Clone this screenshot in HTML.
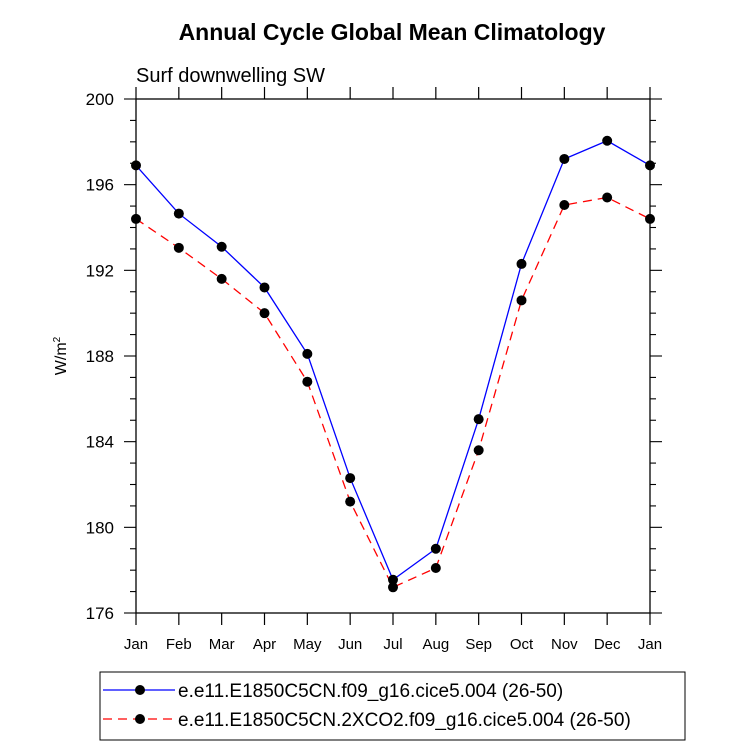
<!DOCTYPE html>
<html><head><meta charset="utf-8"><style>
body{margin:0;background:#fff;font-family:"Liberation Sans",sans-serif}
</style></head><body>
<svg width="733" height="746" xmlns="http://www.w3.org/2000/svg" font-family="Liberation Sans, sans-serif">
<text x="392" y="40" text-anchor="middle" font-size="23" font-weight="bold">Annual Cycle Global Mean Climatology</text>
<text x="136" y="82" font-size="20">Surf downwelling SW</text>
<g id="axes"></g>
<g id="series"></g>
<text transform="translate(66,356) rotate(-90)" text-anchor="middle" font-size="16">W/m<tspan font-size="10" dy="-6">2</tspan></text>
<g>
<rect x="100" y="672" width="585" height="68" fill="none" stroke="#000" stroke-width="1"/>
<line x1="103" y1="690" x2="175" y2="690" stroke="#00f" stroke-width="1.3"/>
<circle cx="140" cy="690" r="5" fill="#000"/>
<text x="178" y="697" font-size="19">e.e11.E1850C5CN.f09_g16.cice5.004 (26-50)</text>
<line x1="103" y1="719" x2="175" y2="719" stroke="#f00" stroke-width="1.3" stroke-dasharray="9,6"/>
<circle cx="140" cy="719" r="5" fill="#000"/>
<text x="178" y="726" font-size="19">e.e11.E1850C5CN.2XCO2.f09_g16.cice5.004 (26-50)</text>
</g>
</svg>
<script>
const months=["Jan","Feb","Mar","Apr","May","Jun","Jul","Aug","Sep","Oct","Nov","Dec","Jan"];
const control=[196.9,194.65,193.1,191.2,188.1,182.3,177.55,179.0,185.05,192.3,197.2,198.05,196.9];
const co2x2=[194.4,193.05,191.6,190.0,186.8,181.2,177.2,178.1,183.6,190.6,195.05,195.4,194.4];
const yTicks=[176,180,184,188,192,196,200];
const NS="http://www.w3.org/2000/svg";
const L=136,R=650,T=99,B=613,yMin=176,yMax=200;
const xs=i=>L+(R-L)*i/(months.length-1);
const ys=v=>B-(B-T)*(v-yMin)/(yMax-yMin);
function mk(tag,a,parent){const e=document.createElementNS(NS,tag);for(const k in a)e.setAttribute(k,a[k]);parent.appendChild(e);return e;}
const ax=document.getElementById('axes');
const frame=mk('rect',{x:L,y:T,width:R-L,height:B-T,fill:'none',stroke:'#000','stroke-width':1.3},ax);


months.forEach((m,i)=>{const x=xs(i);
mk('line',{x1:x,y1:B,x2:x,y2:B+12,stroke:'#000','stroke-width':1.2},ax);
mk('line',{x1:x,y1:T,x2:x,y2:T-12,stroke:'#000','stroke-width':1.2},ax);
const t=mk('text',{x:x,y:B+36,'text-anchor':'middle','font-size':15},ax);t.textContent=m;

});
for(let v=yMin;v<=yMax;v+=1){const y=ys(v);const major=(v-yMin)%4===0;const len=major?12:6;
mk('line',{x1:L,y1:y,x2:L-len,y2:y,stroke:'#000','stroke-width':1.1},ax);
mk('line',{x1:R,y1:y,x2:R+len,y2:y,stroke:'#000','stroke-width':1.1},ax);}
yTicks.forEach(v=>{const t=mk('text',{x:L-22,y:ys(v)+6,'text-anchor':'end','font-size':17},ax);t.textContent=v;

});
const sg=document.getElementById('series');
function draw(data,color,dash,name){
const pts=data.map((v,i)=>xs(i)+','+ys(v)).join(' ');
const pl=mk('polyline',{points:pts,fill:'none',stroke:color,'stroke-width':1.3,'stroke-dasharray':dash},sg);


data.forEach((v,i)=>{const c=mk('circle',{cx:xs(i),cy:ys(v),r:5,fill:'#000'},sg);

});}
draw(co2x2,'#f00','9,6','co2x2');
draw(control,'#00f','none','control');
</script>
</body></html>
